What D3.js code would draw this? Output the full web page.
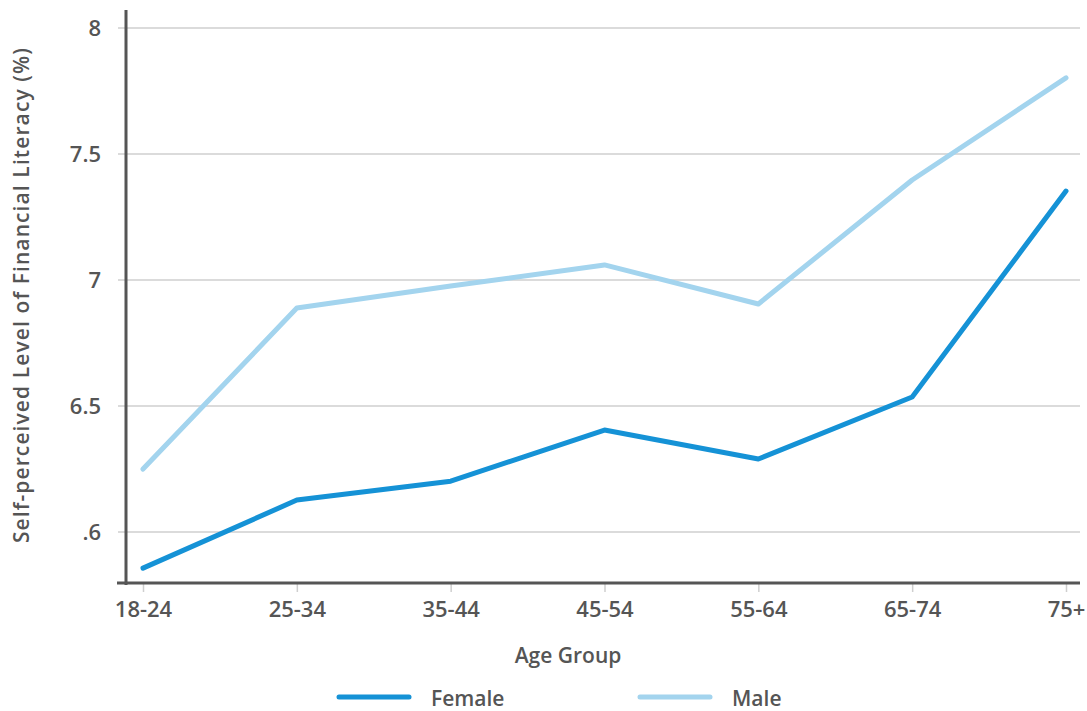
<!DOCTYPE html>
<html><head><meta charset="utf-8">
<script src="https://cdn.jsdelivr.net/npm/d3@7"></script>
<style>
body{margin:0;background:#fff;}
text{font-family:"Open Sans",sans-serif;font-weight:600;fill:#555;}
</style></head>
<body><svg id="c" width="1087" height="711"></svg>
<script>
const categories = ["18-24","25-34","35-44","45-54","55-64","65-74","75+"];
const female = [5.857, 6.127, 6.202, 6.405, 6.29, 6.536, 7.353];
const male = [6.25, 6.889, 6.976, 7.06, 6.905, 7.397, 7.802];
const yTicks = [6, 6.5, 7, 7.5, 8];
const yTickLabels = [".6", "6.5", "7", "7.5", "8"];
const seriesNames = ["Female", "Male"];
const colors = ["#1592d6", "#a3d4ee"];

const svg = d3.select("#c");
const x = d3.scalePoint().domain(categories).range([143, 1066]);
const y = d3.scaleLinear().domain([5.8, 8]).range([582.5, 28]);

// gridlines
svg.append("g").selectAll("line").data(yTicks).join("line")
  .attr("x1", 118).attr("x2", 1080)
  .attr("y1", d => y(d)).attr("y2", d => y(d))
  .attr("stroke", "#cfcfcf").attr("stroke-width", 1.5);

// y tick labels
svg.append("g").selectAll("text").data(yTicks).join("text")
  .attr("x", 101).attr("y", d => y(d)).attr("dy", "0.36em")
  .attr("text-anchor", "end").attr("font-size", 22)
  .text((d, i) => yTickLabels[i]);

// x ticks
const xa = svg.append("g").attr("transform", "translate(0,583)")
  .call(d3.axisBottom(x).tickSize(9).tickPadding(9));
xa.select(".domain").remove();
xa.selectAll(".tick line").attr("stroke", "#cfcfcf").attr("stroke-width", 1.5);
xa.selectAll(".tick text").attr("font-size", 22).attr("fill", "#555")
  .style("font-family", '"Open Sans",sans-serif').style("font-weight", 600);

// axes lines
svg.append("line").attr("x1", 126).attr("x2", 126).attr("y1", 10).attr("y2", 585)
  .attr("stroke", "#555").attr("stroke-width", 3);
svg.append("line").attr("x1", 117).attr("x2", 1080).attr("y1", 583).attr("y2", 583)
  .attr("stroke", "#555").attr("stroke-width", 3);

// lines
const line = d3.line().x((d, i) => x(categories[i])).y(d => y(d));
[male, female].forEach((s, j) => {
  const i = j === 0 ? 1 : 0;
  svg.append("path").datum(s).attr("d", line)
    .attr("fill", "none").attr("stroke", colors[i]).attr("stroke-width", 5)
    .attr("stroke-linecap", "round").attr("stroke-linejoin", "round");
});

// axis titles
svg.append("text").attr("x", 568).attr("y", 663).attr("text-anchor", "middle")
  .attr("font-size", 21).text("Age Group");
svg.append("text").attr("transform", "translate(29,295) rotate(-90)")
  .attr("text-anchor", "middle").attr("font-size", 21)
  .attr("letter-spacing", 1.1)
  .text("Self-perceived Level of Financial Literacy (%)");

// legend
const lx = [339, 640];
seriesNames.forEach((n, i) => {
  svg.append("line").attr("x1", lx[i]).attr("x2", lx[i] + 70)
    .attr("y1", 697).attr("y2", 697)
    .attr("stroke", colors[i]).attr("stroke-width", 5).attr("stroke-linecap", "round");
  svg.append("text").attr("x", lx[i] + 92).attr("y", 706).attr("font-size", 21).text(n);
});
</script></body></html>
